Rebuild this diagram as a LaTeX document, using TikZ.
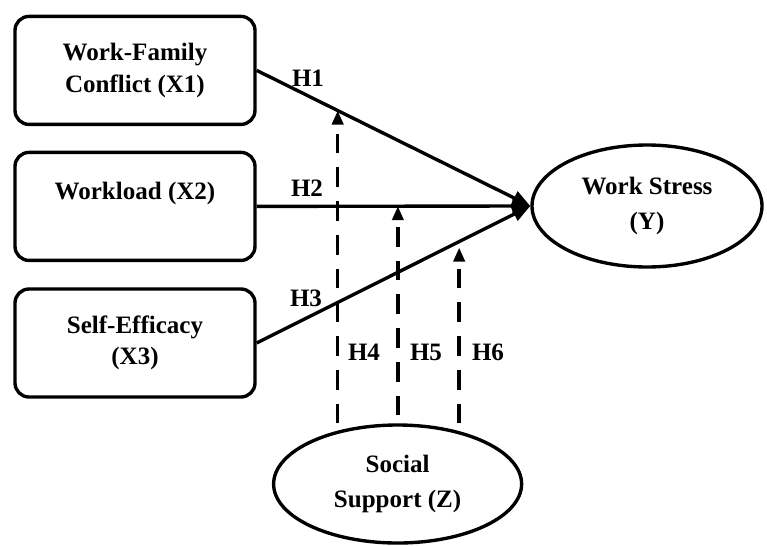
\documentclass[tikz,border=0pt]{standalone}
\usepackage{fontspec}
\setmainfont{Liberation Serif}
\usetikzlibrary{arrows.meta,calc,shapes.geometric}

\begin{document}
\begin{tikzpicture}
	[
		scale=1.00,
		var/.style = {rectangle, rounded corners=0.35cm, align=center, draw=black, line width=2.4pt,
			minimum width=6cm, minimum height=2.7cm, inner sep=0pt,
			font=\fontsize{17.8}{22.5}\selectfont\bfseries},
		latent/.style = {ellipse, align=center, draw=black, line width=2.4pt, inner sep=0pt,
			font=\fontsize{17.8}{25}\selectfont\bfseries},
		hyp/.style = {font=\fontsize{17.8}{20}\selectfont\bfseries},
		effect/.style = {line width=2.4pt, -{Triangle[length=0.45cm,width=0.36cm]}},
		modline/.style = {line width=2.4pt, dash pattern=on 14pt off 10pt, -{Triangle[length=0.35cm,width=0.28cm]}},
	]

	\useasboundingbox (0,0) rectangle (19.175,-13.625);

	% constructs
	\node[var] (x1) 	at ( 3.375, -1.76 ) {Work-Family\\Conflict (X1)};
	\node[var] (x2) 	at ( 3.375, -5.16 ) {Workload (X2)\\~};
	\node[var] (x3) 	at ( 3.375, -8.575 ) {Self-Efficacy\\(X3)};
	\node[latent, minimum width=5.75cm, minimum height=3.05cm] (y) 	at ( 16.175, -5.15 ) {Work Stress\\(Y)};
	\node[latent, minimum width=6.2cm, minimum height=2.95cm] (z) 	at ( 9.94, -12.1 ) {Social\\Support (Z)};

	% direct paths
	\draw[effect] (x1.east) -- coordinate[pos=0.296] (m4) (y.west);
	\draw[effect] (x2.east) -- coordinate[pos=0.516] (m5) (y.west);
	\draw[effect] (x3.east) -- coordinate[pos=0.74] (m6) (y.west);

	% moderation
	\draw[modline] (m4 |- z.north) -- (m4);
	\draw[modline] ($(m5 |- z.north)+(0,0.2)$) -- (m5);
	\draw[modline] (m6 |- z.north) -- ($(m6)+(0,-0.15)$);

	% hypotheses
	\node[hyp] (h1) 	at ( 7.7, -1.95 ) {H1};
	\node[hyp] (h2) 	at ( 7.675, -4.7 ) {H2};
	\node[hyp] (h3) 	at ( 7.65, -7.45 ) {H3};
	\node[hyp] (h4) 	at ( 9.1, -8.8 ) {H4};
	\node[hyp] (h5) 	at ( 10.65, -8.8 ) {H5};
	\node[hyp] (h6) 	at ( 12.2, -8.8 ) {H6};

	\end{tikzpicture}
\end{document}
